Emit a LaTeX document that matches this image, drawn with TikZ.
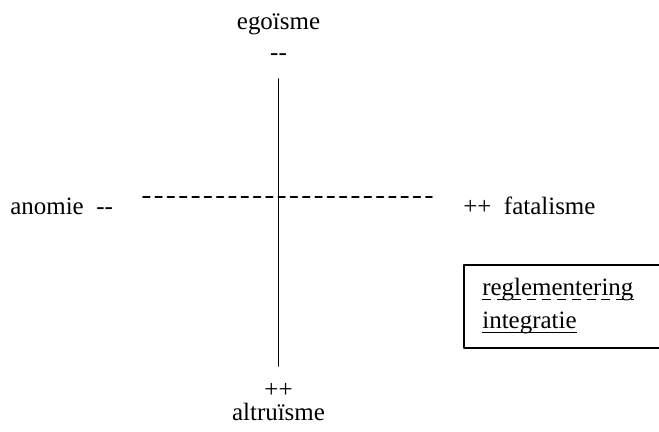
\documentclass[tikz,border=0pt]{standalone}
\usepackage{fontspec}
\setmainfont{Liberation Serif}
\usepackage{tkz-euclide}
\newcommand\minmin{\mbox{-}\mbox{-}}

\begin{document}
\begin{tikzpicture}[every node/.style={font=\fontsize{14.2}{17}\selectfont,inner sep=0pt}]
\useasboundingbox (0,0) rectangle (13.18,8.62);
\tkzSetUpLine[line width=1pt,color=black]

\tkzDefPoint(5.57,7.04){T}
\tkzDefPoint(5.57,1.30){B}
\tkzDefPoint(2.86,4.68){L}
\tkzDefPoint(8.64,4.68){R}

\tkzDefPoint(9.28,3.32){K1}
\tkzDefPoint(13.3,3.32){K2}
\tkzDefPoint(13.3,1.66){K3}
\tkzDefPoint(9.28,1.66){K4}

\tkzDrawSegment(T,B)
\tkzDrawSegment[line width=1pt,dash pattern=on 3.8pt off 3.2pt](L,R)
\tkzDrawPolygon[line width=1.1pt](K1,K2,K3,K4)

\node[anchor=base] (ego) at (5.57,8.02) {egoïsme};
\node[anchor=base] (egomin) at (5.57,7.41) {\minmin};
\node[anchor=base] (altplus) at (5.57,0.67) {++};
\node[anchor=base] (alt) at (5.57,0.22) {altruïsme};
\node[anchor=base west] (ano) at (0.20,4.34) {anomie\enspace\minmin};
\node[anchor=base west] (fat) at (9.26,4.34) {++\enspace fatalisme};

\node[anchor=base west] (reg) at (9.64,2.72) {reglementering};
\node[anchor=base west] (int) at (9.64,2.06) {integratie};
\draw[line width=1pt,dash pattern=on 5.1pt off 3.4pt]
  ([yshift=-2.6pt]reg.base west) -- ([yshift=-2.6pt]reg.base east);
\draw[line width=1pt]
  ([yshift=-2.6pt]int.base west) -- ([yshift=-2.6pt]int.base east);

\end{tikzpicture}
\end{document}
